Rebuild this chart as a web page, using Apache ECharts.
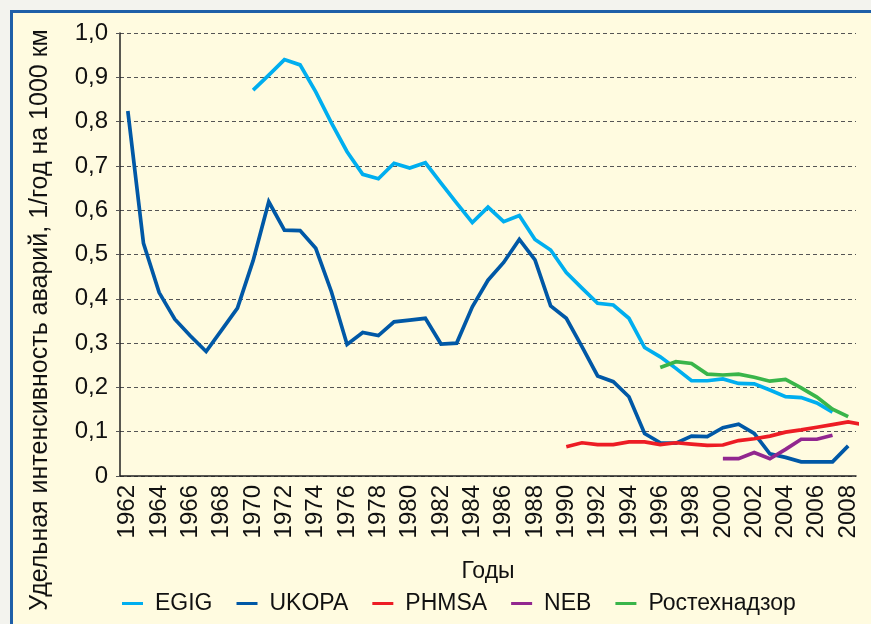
<!DOCTYPE html>
<html>
<head>
<meta charset="utf-8">
<script src="https://cdn.jsdelivr.net/npm/echarts@6/dist/echarts.min.js"></script>
<style>
html,body{margin:0;padding:0;width:871px;height:624px;background:#f3f3ee;overflow:hidden;}
#frame{position:absolute;left:10px;top:10px;width:880px;height:640px;background:#fffbe0;border-top:3px solid #1f5fa8;border-left:3px solid #1f5fa8;}
#chart{position:absolute;left:0;top:0;width:871px;height:624px;}
</style>
</head>
<body>
<div id="frame"></div>
<div id="chart"></div>
<script>
var years = ['1962','1963','1964','1965','1966','1967','1968','1969','1970','1971','1972','1973','1974','1975','1976','1977','1978','1979','1980','1981','1982','1983','1984','1985','1986','1987','1988','1989','1990','1991','1992','1993','1994','1995','1996','1997','1998','1999','2000','2001','2002','2003','2004','2005','2006','2007','2008'];

var egigYears = [1970,1971,1972,1973,1974,1975,1976,1977,1978,1979,1980,1981,1982,1983,1984,1985,1986,1987,1988,1989,1990,1991,1992,1993,1994,1995,1996,1997,1998,1999,2000,2001,2002,2003,2004,2005,2006,2007];
var egigValues = [0.871,0.905,0.940,0.928,0.867,0.797,0.732,0.681,0.671,0.706,0.695,0.707,0.661,0.616,0.572,0.607,0.574,0.588,0.534,0.510,0.459,0.424,0.390,0.386,0.356,0.290,0.269,0.243,0.215,0.215,0.219,0.209,0.208,0.194,0.179,0.177,0.165,0.144];

var ukopaYears = [1962,1963,1964,1965,1966,1967,1968,1969,1970,1971,1972,1973,1974,1975,1976,1977,1978,1979,1980,1981,1982,1983,1984,1985,1986,1987,1988,1989,1990,1991,1992,1993,1994,1995,1996,1997,1998,1999,2000,2001,2002,2003,2004,2005,2006,2007,2008];
var ukopaValues = [0.824,0.525,0.414,0.354,0.316,0.281,0.330,0.379,0.486,0.619,0.555,0.554,0.514,0.416,0.297,0.324,0.317,0.348,0.352,0.356,0.298,0.300,0.382,0.442,0.482,0.534,0.488,0.384,0.356,0.292,0.226,0.213,0.179,0.096,0.075,0.074,0.090,0.089,0.109,0.117,0.096,0.050,0.042,0.032,0.032,0.032,0.068];

var phmsaYears = [1990,1991,1992,1993,1994,1995,1996,1997,1998,1999,2000,2001,2002,2003,2004,2005,2006,2007,2008,2009];
var phmsaValues = [0.066,0.075,0.071,0.071,0.077,0.077,0.071,0.075,0.072,0.069,0.070,0.080,0.084,0.090,0.099,0.104,0.110,0.116,0.122,0.116];

var nebYears = [2000,2001,2002,2003,2004,2005,2006,2007];
var nebValues = [0.039,0.039,0.053,0.039,0.060,0.083,0.083,0.092];

var rtnYears = [1996,1997,1998,1999,2000,2001,2002,2003,2004,2005,2006,2007,2008];
var rtnValues = [0.245,0.258,0.254,0.230,0.228,0.230,0.223,0.214,0.218,0.199,0.178,0.151,0.134];

var seriesNames = ['EGIG','UKOPA','PHMSA','NEB','Ростехнадзор'];
var seriesColors = ['#00aeef','#0058a6','#ed1c24','#92278f','#39b54a'];
var seriesYears = [egigYears, ukopaYears, phmsaYears, nebYears, rtnYears];
var seriesValues = [egigValues, ukopaValues, phmsaValues, nebValues, rtnValues];

var FONT = '"Liberation Sans", Arial, sans-serif';

function pairs(xs, ys){ return xs.map(function(x,i){ return [x, ys[i]]; }); }

var series = seriesNames.map(function(n, k){
  return {
    name: n, type: 'line', xAxisIndex: 1, yAxisIndex: 0,
    data: pairs(seriesYears[k], seriesValues[k]),
    showSymbol: false, symbol: 'none', clip: false,
    lineStyle: {width: 3.7, color: seriesColors[k], join: 'miter'},
    itemStyle: {color: seriesColors[k]},
    animation: false
  };
});

var chart = echarts.init(document.getElementById('chart'), null, {renderer: 'canvas'});
chart.setOption({
  backgroundColor: 'transparent',
  animation: false,
  textStyle: {fontFamily: FONT},
  grid: {left: 120, right: 15, top: 33, bottom: 148, containLabel: false},
  xAxis: [{
    type: 'category', data: years, boundaryGap: true,
    name: 'Годы', nameLocation: 'middle', nameGap: 84,
    nameTextStyle: {fontSize: 23, color: '#111', fontFamily: FONT},
    axisLine: {lineStyle: {color: '#222', width: 1.5}},
    axisTick: {show: false},
    axisLabel: {interval: 1, rotate: 90, fontSize: 24, color: '#111', margin: 9, fontFamily: FONT},
    splitLine: {show: false}
  }, {
    type: 'value', min: 1961.5, max: 2008.5, show: false,
    splitLine: {show: false}
  }],
  yAxis: [{
    type: 'value', min: 0, max: 1, interval: 0.1,
    axisLine: {show: true, lineStyle: {color: '#222', width: 1.5}},
    axisTick: {show: true, length: 7, lineStyle: {color: '#555', type: [4,3]}},
    axisLabel: {fontSize: 24, color: '#111', margin: 12, fontFamily: FONT,
      formatter: function(v){ return v === 0 ? '0' : v.toFixed(1).replace('.', ','); }},
    splitLine: {show: true, lineStyle: {color: '#555', width: 1, type: [4,3]}}
  }],
  legend: {
    data: seriesNames, left: 117, top: 587,
    icon: 'rect', itemWidth: 21, itemHeight: 3, itemGap: 24,
    textStyle: {fontSize: 23, color: '#111', fontFamily: FONT, padding: [0,0,0,7]}
  },
  graphic: [{
    type: 'text',
    rotation: Math.PI/2,
    x: 40, y: 320,
    style: {text: 'Удельная интенсивность аварий, 1/год на 1000 км', font: '25px ' + FONT, fill: '#111',
      textAlign: 'center', textVerticalAlign: 'middle'}
  }],
  series: series
});
</script>
</body>
</html>
